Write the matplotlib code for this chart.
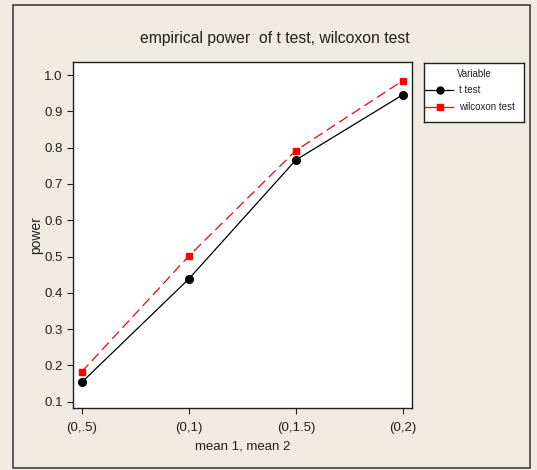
import matplotlib.pyplot as plt
from matplotlib.patches import Rectangle
from matplotlib.lines import Line2D

plt.rcParams['font.family'] = ['Liberation Sans Narrow', 'Liberation Sans', 'DejaVu Sans']

# data
groups = ['(0,.5)', '(0,1)', '(0,1.5)', '(0,2)']
t_test = [0.153, 0.438, 0.766, 0.946]
wilcoxon = [0.182, 0.501, 0.792, 0.985]
y_ticks = [0.1, 0.2, 0.3, 0.4, 0.5, 0.6, 0.7, 0.8, 0.9, 1.0]

bg = '#efebe2'
fig = plt.figure(figsize=(5.37, 4.70), dpi=100, facecolor=bg)

# outer frame
fig.patches.append(Rectangle((13 / 537, 1 - 468 / 470), (530 - 13) / 537, (468 - 5) / 470,
                             transform=fig.transFigure, fill=False,
                             edgecolor='#404040', linewidth=1.2))

ax = fig.add_axes([0.1365, 0.132, 0.630, 0.736])
ax.set_facecolor('white')

x = list(range(len(groups)))
ax.plot(x, t_test, color='black', linewidth=0.9, marker='o', markersize=5.5,
        label='t test')
ax.plot(x, wilcoxon, color='red', linewidth=0.9, linestyle=(0, (8, 4)),
        marker='s', markersize=5, label='wilcoxon test')

ax.set_xlim(-0.078, 3.081)
ax.set_ylim(0.0826, 1.036)
ax.set_xticks(x)
ax.set_xticklabels(groups)
ax.set_yticks(y_ticks)
ax.set_yticklabels(['%.1f' % v for v in y_ticks])
ax.tick_params(direction='out', length=4, width=0.8, labelsize=9.5, colors='#202020')
ax.tick_params(axis='x', pad=6, labelsize=9.5)
for s in ax.spines.values():
    s.set_linewidth(1.0)
    s.set_color('#202020')

ax.set_xlabel('mean 1, mean 2', fontsize=9.5, labelpad=5, color='#202020')
ax.set_ylabel('power', fontsize=10, labelpad=1, color='#202020')
fig.text(0.512, 1 - 38 / 470, 'empirical power  of t test, wilcoxon test',
         ha='center', va='center', fontsize=11.3, color='#202020')

# legend box
lax = fig.add_axes([424 / 537, 1 - 122 / 470, 100 / 537, 59 / 470])
lax.set_xlim(0, 100)
lax.set_ylim(59, 0)
lax.set_xticks([])
lax.set_yticks([])
lax.set_facecolor('white')
for s in lax.spines.values():
    s.set_linewidth(1.0)
    s.set_color('#202020')
lax.text(50, 11, 'Variable', ha='center', va='center', fontsize=7, color='#202020')
lax.add_line(Line2D([1, 16, 29], [27, 27, 27], color='black', linewidth=0.9,
                    marker='o', markevery=[1], markersize=5))
lax.add_line(Line2D([1, 16, 29], [44, 44, 44], color='red', linewidth=0.9,
                    marker='s', markevery=[1], markersize=5))
lax.text(35, 27, 't test', ha='left', va='center', fontsize=7, color='#202020')
lax.text(35, 44, 'wilcoxon test', ha='left', va='center', fontsize=7, color='#202020')

fig.savefig('out.png', dpi=100, facecolor=bg)
